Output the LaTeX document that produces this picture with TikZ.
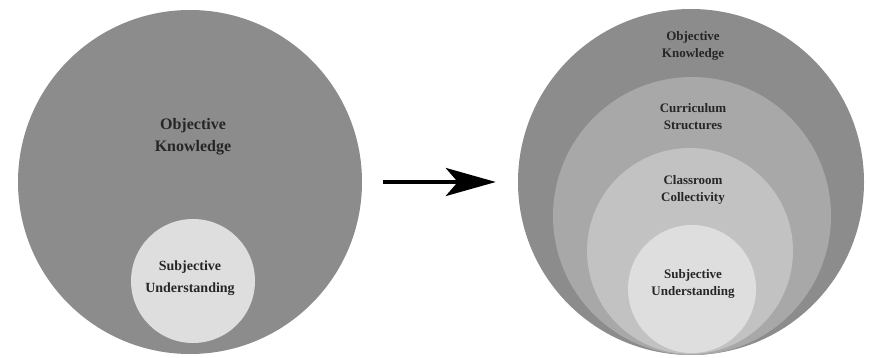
\documentclass[tikz,border=0pt]{standalone}
\usepackage{fontspec}
\setmainfont{Liberation Serif}
\usetikzlibrary{arrows.meta}

\definecolor{shadeA}{gray}{0.55}
\definecolor{shadeB}{gray}{0.66}
\definecolor{shadeC}{gray}{0.76}
\definecolor{shadeD}{gray}{0.87}

\begin{document}
\begin{tikzpicture}[x=1pt,y=-1pt,
  disc/.style={circle,inner sep=0pt,minimum size=#1},
  lbl/.style={align=center,text=black!85,font=\bfseries\fontsize{13}{17}\selectfont}]
  \useasboundingbox (0,0) rectangle (870,358);

  % before
  \node[disc=344pt,fill=shadeA] (lobj) at (190,182) {};
  \node[disc=124pt,fill=shadeD] (lsubj) at (193,281) {};
  \node[lbl,font=\bfseries\fontsize{16}{22}\selectfont] (lobjtxt) at (193,137) {Objective\\Knowledge};
  \node[lbl,font=\bfseries\fontsize{14}{22}\selectfont] (lsubjtxt) at (190,278) {Subjective\\Understanding};

  % after
  \node[disc=346pt,fill=shadeA] (robj) at (691,182) {};
  \node[disc=278pt,fill=shadeB] (rcurr) at (692,216) {};
  \node[disc=206pt,fill=shadeC] (rclass) at (690,251) {};
  \node[disc=128pt,fill=shadeD] (rsubj) at (692,289) {};
  \node[lbl] (robjtxt) at (693,46) {Objective\\Knowledge};
  \node[lbl] (rcurrtxt) at (693,117) {Curriculum\\Structures};
  \node[lbl] (rclasstxt) at (693,190) {Classroom\\Collectivity};
  \node[lbl] (rsubjtxt) at (693,284) {Subjective\\Understanding};

  \draw[line width=4pt,-{Stealth[length=50pt,width=28pt,inset=12pt]}]
    ([xshift=21pt]lobj.east) -- ([xshift=-22pt]robj.west);
\end{tikzpicture}
\end{document}
